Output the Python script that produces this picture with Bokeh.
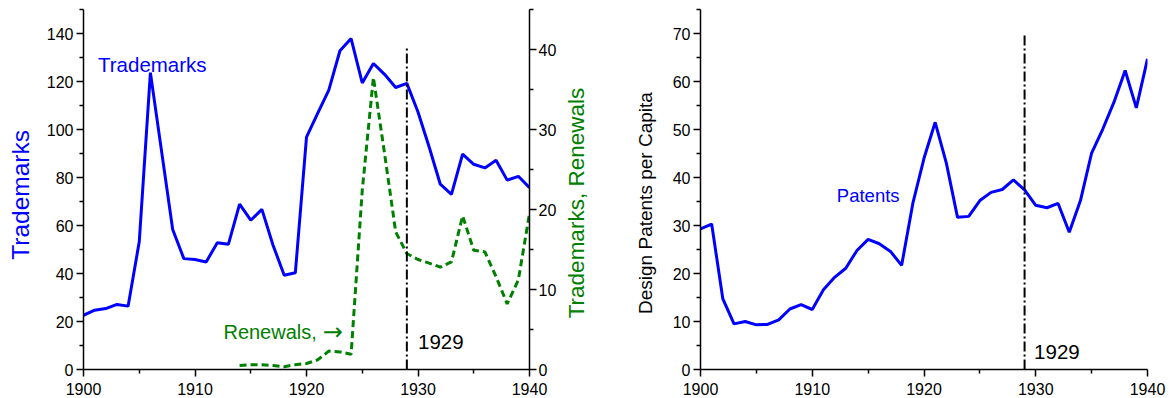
import math
from bokeh.plotting import figure
from bokeh.models import Range1d, LinearAxis, FixedTicker
from bokeh.layouts import row
from bokeh.core.properties import value
from bokeh.embed import file_html
from bokeh.resources import INLINE

years = list(range(1900, 1941))
trademarks = [22.6, 24.7, 25.4, 27.1, 26.4, 53.2, 123.7, 91.0, 58.3, 46.2,
              45.8, 44.8, 52.8, 52.2, 68.9, 62.2, 66.7, 51.8, 39.3, 40.3,
              96.8, 106.7, 116.4, 132.8, 137.9, 119.4, 127.5, 123.0, 117.5, 119.2,
              107.3, 92.7, 77.2, 73.0, 89.7, 85.5, 84.0, 87.2, 78.9, 80.5, 75.8]
renewal_years = list(range(1914, 1941))
renewals = [0.5, 0.6, 0.6, 0.5, 0.35, 0.6, 0.75, 1.2, 2.3, 2.2, 1.9, 22.4, 36.5,
            27.0, 17.2, 14.5, 13.75, 13.3, 12.8, 13.45, 19.2, 14.9, 14.7, 11.6,
            8.2, 11.2, 19.5]
patents = [29.3, 30.3, 14.7, 9.5, 10.0, 9.3, 9.4, 10.35, 12.6, 13.5,
           12.5, 16.6, 19.2, 21.1, 24.8, 27.1, 26.2, 24.6, 21.7, 34.6,
           44.0, 51.5, 43.0, 31.7, 31.9, 35.2, 36.9, 37.5, 39.5, 37.4,
           34.2, 33.7, 34.6, 28.6, 35.2, 45.1, 50.1, 55.7, 62.3, 54.5, 64.7]
x_ticks = [1900, 1910, 1920, 1930, 1940]
x_minor = [1905, 1915, 1925, 1935]
event_year = 1929

FONT = "Liberation Sans"
BLUE = "#0000FF"
GREEN = "#008000"
TICK_FS = "16px"
H = 398


def style_axis(ax):
    ax.axis_line_color = "black"
    ax.axis_line_width = 1.5
    ax.major_tick_line_color = "black"
    ax.major_tick_line_width = 1.5
    ax.minor_tick_line_color = "black"
    ax.minor_tick_line_width = 1.5
    ax.major_tick_out = 7
    ax.major_tick_in = 0
    ax.minor_tick_out = 4
    ax.minor_tick_in = 0
    ax.major_label_text_font = FONT
    ax.major_label_text_font_size = TICK_FS
    ax.major_label_text_color = "black"


def title_strip(width, text, cx, cy, color, size):
    s = figure(width=width, height=H, output_backend="svg", toolbar_location=None,
               title=None, x_axis_type=None, y_axis_type=None,
               x_range=Range1d(0, width), y_range=Range1d(0, H),
               min_border_left=0, min_border_right=0, min_border_top=0,
               min_border_bottom=0)
    s.outline_line_color = None
    s.grid.visible = False
    s.text(x=[cx], y=[H - cy], text=[text], angle=math.pi / 2,
           text_color=color, text_font=value(FONT), text_font_size=size,
           text_align="center", text_baseline="middle")
    return s


# ---------------- left chart ----------------
s0 = title_strip(40, "Trademarks", 19.5, 205, BLUE, "24.5px")

p1 = figure(width=522, height=H, output_backend="svg", toolbar_location=None,
            x_range=Range1d(1900, 1940), y_range=Range1d(0, 150),
            min_border_left=43, min_border_right=33, min_border_top=9,
            min_border_bottom=29)
p1.outline_line_color = None
p1.xgrid.visible = False
p1.ygrid.visible = False
p1.extra_y_ranges = {"ren": Range1d(0, 45)}

p1.xaxis.ticker = FixedTicker(ticks=x_ticks, minor_ticks=x_minor)
p1.yaxis.ticker = FixedTicker(ticks=[0, 20, 40, 60, 80, 100, 120, 140],
                              minor_ticks=[10, 30, 50, 70, 90, 110, 130, 150])
for ax in p1.xaxis + p1.yaxis:
    style_axis(ax)
p1.xaxis.major_label_standoff = 6
p1.yaxis.major_label_standoff = 3

rax = LinearAxis(y_range_name="ren",
                 ticker=FixedTicker(ticks=[0, 10, 20, 30, 40], minor_ticks=[5, 15, 25, 35, 45]))
style_axis(rax)
rax.major_label_standoff = 2
p1.add_layout(rax, "right")

p1.line(years, trademarks, line_color=BLUE, line_width=3)
p1.line(renewal_years, renewals, line_color=GREEN, line_width=3, line_dash="7 4",
        y_range_name="ren")
p1.segment(x0=[event_year], y0=[0], x1=[event_year], y1=[133.7], line_color="black",
           line_width=2, line_dash="10 3 2 3")

p1.text(x=[1901.3], y=[127.2], text=["Trademarks"], text_color=BLUE,
        text_font=value(FONT), text_font_size="20.5px", text_baseline="alphabetic",
        text_align="left")
p1.text(x=[1912.55], y=[15.7], text=["Renewals,"], text_color=GREEN,
        text_font=value(FONT), text_font_size="20px", text_baseline="alphabetic",
        text_align="left")
p1.text(x=[1921.45], y=[15.7], text=["\u2192"], text_color=GREEN,
        text_font=value("DejaVu Sans"), text_font_size="24px", text_baseline="alphabetic",
        text_align="left")
p1.text(x=[1930.0], y=[11.5], text=["1929"], text_color="black",
        text_font=value(FONT), text_font_size="20.5px", text_baseline="alphabetic",
        text_align="left")

s1 = title_strip(38, "Trademarks, Renewals", 575.5 - 562, 214, GREEN, "22.5px")

# ---------------- right chart ----------------
s2 = title_strip(62, "Design Patents per Capita", 645 - 600, 214, "black", "19px")

p2 = figure(width=507, height=H, output_backend="svg", toolbar_location=None,
            x_range=Range1d(1900, 1940), y_range=Range1d(0, 75),
            min_border_left=38, min_border_right=22, min_border_top=9,
            min_border_bottom=29)
p2.outline_line_color = None
p2.xgrid.visible = False
p2.ygrid.visible = False
p2.xaxis.ticker = FixedTicker(ticks=x_ticks, minor_ticks=x_minor)
p2.yaxis.ticker = FixedTicker(ticks=[0, 10, 20, 30, 40, 50, 60, 70],
                              minor_ticks=[5, 15, 25, 35, 45, 55, 65, 75])
for ax in p2.xaxis + p2.yaxis:
    style_axis(ax)
p2.xaxis.major_label_standoff = 6
p2.yaxis.major_label_standoff = 3

p2.line(years, patents, line_color=BLUE, line_width=3)
p2.segment(x0=[event_year], y0=[0], x1=[event_year], y1=[70], line_color="black",
           line_width=2, line_dash="10 3 2 3")
p2.text(x=[1912.2], y=[36.3], text=["Patents"], text_color=BLUE,
        text_font=value(FONT), text_font_size="18.5px", text_baseline="alphabetic",
        text_align="left")
p2.text(x=[1929.85], y=[3.6], text=["1929"], text_color="black",
        text_font=value(FONT), text_font_size="20.5px", text_baseline="alphabetic",
        text_align="left")

layout = row(s0, p1, s1, s2, p2)
open("out.html", "w").write(file_html(layout, INLINE))
